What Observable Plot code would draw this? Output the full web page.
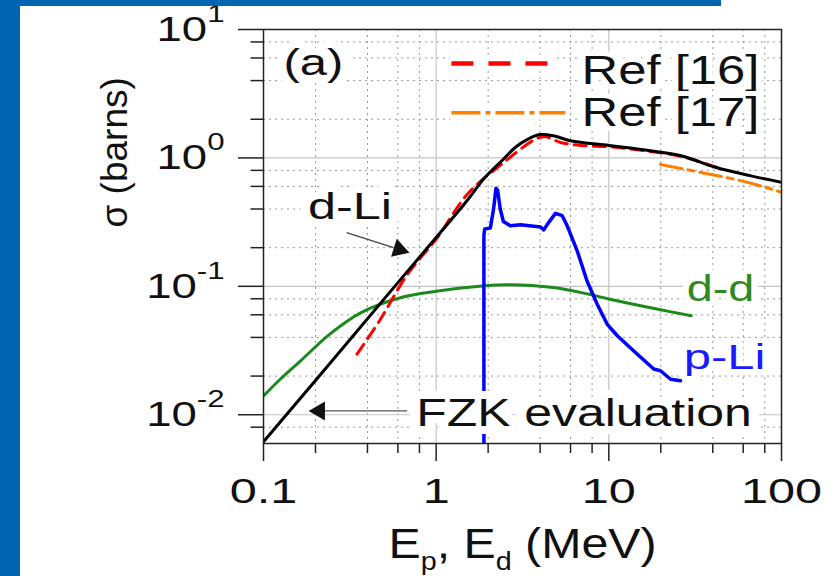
<!DOCTYPE html>
<html><head><meta charset="utf-8">
<script src="https://cdn.jsdelivr.net/npm/d3@7"></script>
<script src="https://cdn.jsdelivr.net/npm/@observablehq/plot@0.6"></script>
<style>
body{margin:0;background:#fff;}
#wrap{position:relative;width:837px;height:576px;overflow:hidden;background:#fff;}
#wrap svg{position:absolute;left:0;top:0;}
.bar{position:absolute;background:#0064b0;z-index:2;}
</style></head><body>
<div id="wrap"></div>
<script>
// ---- data ----
const xMajor = [0.1, 1, 10, 100];
const xMinor = [0.2, 0.4, 0.6, 0.8, 2, 4, 6, 8, 20, 40, 60, 80];
const yMajor = [0.01, 0.1, 1, 10];
const yMinor = [0.008, 0.02, 0.04, 0.06, 0.08, 0.2, 0.4, 0.6, 0.8, 2, 4, 6, 8];

// FZK evaluation (d-Li), black
const fzkE = [0.1, 0.2, 0.5, 1, 1.5, 1.91, 2.4, 2.88, 3.4, 3.98, 4.77, 6.0, 10, 15, 26.2, 41.4, 65.7, 100];
const fzkS = [0.00615, 0.0185, 0.0798, 0.24, 0.46, 0.70, 0.95, 1.21, 1.40, 1.52, 1.49, 1.36, 1.25, 1.17, 1.04, 0.845, 0.728, 0.645];
// Ref [16], red dashed
const ref16E = [0.348, 0.47, 0.662, 0.8, 1, 1.52, 2.4, 3.8, 4.3, 5.25, 6.9, 10, 15, 26, 45];
const ref16S = [0.0296, 0.054, 0.117, 0.163, 0.233, 0.524, 0.897, 1.41, 1.46, 1.32, 1.25, 1.22, 1.15, 1.03, 0.82];
// Ref [17], orange dash-dot
const ref17E = [19.9, 37.8, 65.7, 100];
const ref17S = [0.887, 0.75, 0.638, 0.54];
// d-d, green
const ddE = [0.1, 0.125, 0.164, 0.244, 0.365, 0.621, 1, 1.91, 2.62, 4.77, 7.58, 10, 19, 30];
const ddS = [0.014, 0.0189, 0.0263, 0.0428, 0.0622, 0.0815, 0.0914, 0.101, 0.103, 0.098, 0.087, 0.0797, 0.0665, 0.059];
// p-Li, blue
const pliE = [1.89, 1.89, 1.91, 2.06, 2.15, 2.22, 2.27, 2.35, 2.45, 2.69, 3.08, 4.02, 4.2, 4.49, 4.91, 5.37, 5.74, 6.55, 7.48, 8.55, 9.77, 11.2, 13.9, 18.2, 19.9, 22.8, 26];
const pliS = [0.006, 0.25, 0.28, 0.285, 0.40, 0.58, 0.56, 0.40, 0.32, 0.296, 0.302, 0.29, 0.275, 0.315, 0.37, 0.355, 0.296, 0.19, 0.11, 0.0728, 0.0508, 0.0412, 0.0315, 0.0227, 0.022, 0.0189, 0.0184];

const tbl = (E, S) => E.map((e, i) => ({E: e, s: S[i]}));
const fzk = tbl(fzkE, fzkS), ref16 = tbl(ref16E, ref16S), ref17 = tbl(ref17E, ref17S);
const dd = tbl(ddE, ddS), pli = tbl(pliE, pliS);

const one = [0];
const plot = Plot.plot({
  width: 837, height: 576,
  marginLeft: 263, marginRight: 56, marginTop: 29, marginBottom: 133,
  style: {fontFamily: "'Liberation Sans', Arial, sans-serif", background: "transparent", color: "#111"},
  x: {type: "log", domain: [0.1, 100]},
  y: {type: "log", domain: [0.00597, 10]},
  marks: [
    // grid
    Plot.ruleX(xMinor, {x: d => d, stroke: "#9a9a9a", strokeDasharray: "2,4", strokeWidth: 1}),
    Plot.ruleY(yMinor, {y: d => d, stroke: "#9a9a9a", strokeDasharray: "2,4", strokeWidth: 1}),
    Plot.ruleX([1, 10], {x: d => d, stroke: "#c4c4c4", strokeWidth: 1.2}),
    Plot.ruleY([0.01, 0.1, 1], {y: d => d, stroke: "#c4c4c4", strokeWidth: 1.2}),
    // ticks
    Plot.axisX({ticks: xMajor, tickSize: 18, tickFormat: () => "", label: null, strokeWidth: 1.5, color: "#222"}),
    Plot.axisX({ticks: xMinor, tickSize: 10, tickFormat: () => "", label: null, strokeWidth: 1.5, color: "#222"}),
    Plot.axisY({ticks: yMajor, tickSize: 25, tickFormat: () => "", label: null, strokeWidth: 1.5, color: "#222"}),
    Plot.axisY({ticks: yMinor, tickSize: 12.5, tickFormat: () => "", label: null, strokeWidth: 1.5, color: "#222"}),
    // tick labels
    Plot.text(xMajor, {x: d => d, frameAnchor: "bottom", text: d => String(d), dy: 48, fontSize: 36, lineAnchor: "middle", fill: "#111"}),
    Plot.text(yMajor, {y: d => d, frameAnchor: "left", text: d => "10^" + Math.round(Math.log10(d)), textAnchor: "end", dx: -39, fontSize: 35, fill: "#111"}),
    // axis titles
    Plot.text(one, {frameAnchor: "bottom", text: () => "E_p, E_d (MeV)", dy: 114, fontSize: 42, lineAnchor: "bottom", fill: "#111"}),
    Plot.text(one, {frameAnchor: "left", text: () => "σ (barns)", rotate: -90, dx: -148, dy: -9, fontSize: 37, lineAnchor: "middle", fill: "#111"}),
    // curve labels drawn under curves
    Plot.text(one, {frameAnchor: "top-left", text: () => "d-d", dx: 457, dy: 271, fontSize: 36, lineAnchor: "bottom", textAnchor: "middle", fill: "#2f8a1f", stroke: "white", strokeWidth: 10}),
    Plot.text(one, {frameAnchor: "top-left", text: () => "p-Li", dx: 461, dy: 339, fontSize: 35, lineAnchor: "bottom", textAnchor: "middle", fill: "#1a1aff", stroke: "white", strokeWidth: 10}),
    // curves
    Plot.line(dd, {x: "E", y: "s", stroke: "#1b8a1b", strokeWidth: 3, curve: "catmull-rom", clip: true}),
    Plot.line(pli, {x: "E", y: "s", stroke: "#0000ff", strokeWidth: 3.5, curve: "linear", clip: true}),
    Plot.line(ref17, {x: "E", y: "s", stroke: "#ff8000", strokeWidth: 3, strokeDasharray: "22,6,6,6", curve: "catmull-rom", clip: true}),
    Plot.line(ref16, {x: "E", y: "s", stroke: "#ff0000", strokeWidth: 3, strokeDasharray: "12,7", curve: "catmull-rom", clip: true}),
    Plot.line(fzk, {x: "E", y: "s", stroke: "#000", strokeWidth: 3, curve: "catmull-rom", clip: true}),
    // annotations
    Plot.text(one, {frameAnchor: "top-left", text: () => "FZK evaluation", dx: 320.5, dy: 396, fontSize: 39, lineAnchor: "bottom", textAnchor: "middle", fill: "#111", stroke: "white", strokeWidth: 16, strokeLinejoin: "round"}),
    Plot.text(one, {frameAnchor: "top-left", text: () => "d-Li", dx: 86.5, dy: 189, fontSize: 36, lineAnchor: "bottom", textAnchor: "middle", fill: "#111", stroke: "white", strokeWidth: 14, strokeLinejoin: "round"}),
    Plot.text(one, {frameAnchor: "top-left", text: () => "(a)", dx: 20, dy: 45, fontSize: 36, lineAnchor: "bottom", fill: "#111", stroke: "white", strokeWidth: 14, strokeLinejoin: "round"}),
    Plot.link(one, {x1: () => 0.303, y1: () => 0.262, x2: () => 0.566, y2: () => 0.2, stroke: "#444", strokeWidth: 1.3}),
    Plot.dot(one, {x: () => 0.61, y: () => 0.194, symbol: "triangle", r: 7, fill: "#111", stroke: null, rotate: 107.6}),
    Plot.link(one, {x1: () => 0.679, y1: () => 0.0107, x2: () => 0.211, y2: () => 0.0107, stroke: "#555", strokeWidth: 1.3}),
    Plot.dot(one, {x: () => 0.211, y: () => 0.0107, symbol: "triangle", r: 7, fill: "#111", stroke: null, rotate: 270}),
    // legend
    Plot.link(one, {x1: () => 1.2, y1: () => 5.43, x2: () => 5.0, y2: () => 5.43, stroke: "white", strokeWidth: 14}),
    Plot.link(one, {x1: () => 1.2, y1: () => 2.25, x2: () => 5.7, y2: () => 2.25, stroke: "white", strokeWidth: 14}),
    Plot.link(one, {x1: () => 1.226, y1: () => 5.43, x2: () => 4.908, y2: () => 5.43, stroke: "#ff0000", strokeWidth: 4.5, strokeDasharray: "22,15"}),
    Plot.link(one, {x1: () => 1.226, y1: () => 2.25, x2: () => 5.61, y2: () => 2.25, stroke: "#ff8000", strokeWidth: 3.5, strokeDasharray: "29,5,5,5"}),
    Plot.text(one, {frameAnchor: "top-left", text: () => "Ref [16]", dx: 318, dy: 54, fontSize: 40, lineAnchor: "bottom", fill: "#111", stroke: "white", strokeWidth: 10, strokeLinejoin: "round"}),
    Plot.text(one, {frameAnchor: "top-left", text: () => "Ref [17]", dx: 318, dy: 96, fontSize: 40, lineAnchor: "bottom", fill: "#111", stroke: "white", strokeWidth: 10, strokeLinejoin: "round"}),
    Plot.frame({stroke: "#222", strokeWidth: 1.5})
  ]
});

// typographic touches: superscripts, subscripts and the wide lettering of the original
const stretch = {"(a)": 1.36, "Ref [16]": 1.27, "Ref [17]": 1.27, "d-Li": 1.4, "d-d": 1.3, "p-Li": 1.4,
  "FZK evaluation": 1.28, "E_p, E_d (MeV)": 1.15, "0.1": 1.35, "1": 1.35, "10": 1.35, "100": 1.35};
d3.select(plot).selectAll("text").each(function () {
  const t = this, txt = t.textContent;
  if (!txt) return;
  let s = stretch[txt];
  const m = /^10\^(-?\d+)$/.exec(txt);
  if (m) {
    s = 1.3;
    t.textContent = "";
    d3.select(t).append("tspan").text("10");
    d3.select(t).append("tspan").attr("dy", -19).attr("font-size", 24).text(m[1]);
  } else if (txt === "E_p, E_d (MeV)") {
    t.textContent = "";
    const sel = d3.select(t);
    sel.append("tspan").text("E");
    sel.append("tspan").attr("dy", 12).attr("font-size", 25).text("p");
    sel.append("tspan").attr("dy", -12).text(", E");
    sel.append("tspan").attr("dy", 12).attr("font-size", 25).text("d");
    sel.append("tspan").attr("dy", -12).text(" (MeV)");
  }
  if (s) t.setAttribute("transform", (t.getAttribute("transform") || "") + ` scale(${s},1)`);
});

const wrap = document.getElementById("wrap");
wrap.appendChild(plot);
const b1 = document.createElement("div"); b1.className = "bar";
Object.assign(b1.style, {left: "0px", top: "0px", width: "20px", height: "576px"});
const b2 = document.createElement("div"); b2.className = "bar";
Object.assign(b2.style, {left: "0px", top: "0px", width: "721px", height: "6px"});
wrap.appendChild(b1); wrap.appendChild(b2);
</script>
</body></html>
